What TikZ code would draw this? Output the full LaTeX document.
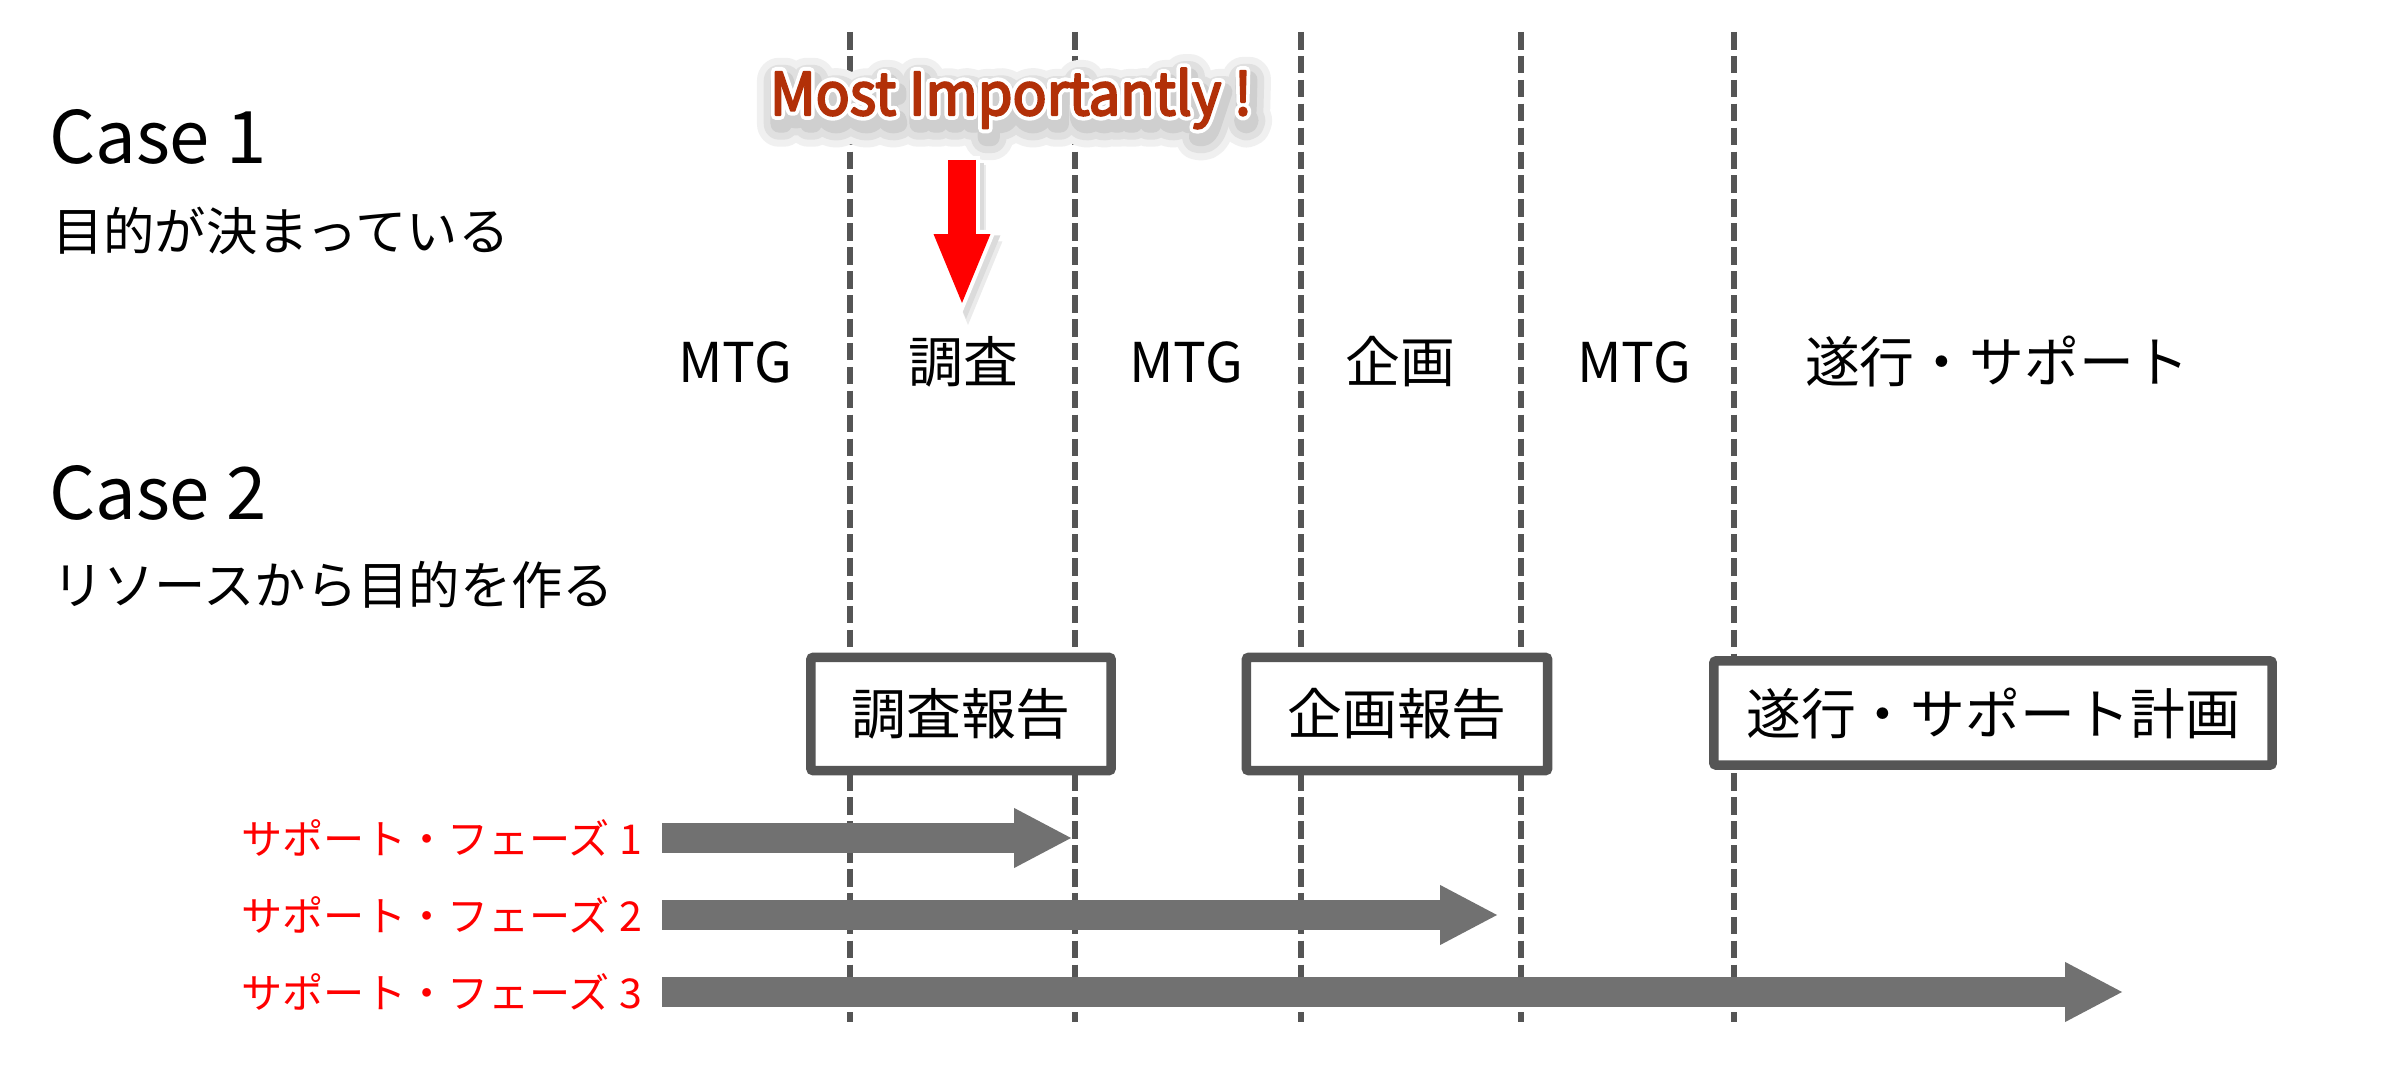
\documentclass[tikz,border=0pt]{standalone}
\usepackage{fontspec}
\setmainfont{Noto Sans CJK JP}
\usetikzlibrary{positioning, calc, math, arrows.meta}

\definecolor{linegray}{RGB}{85,85,85}
\definecolor{bargray}{RGB}{113,113,113}
\definecolor{alertred}{RGB}{178,48,8}

%% soft shadow and white rim round a text (stroked glyphs)
\newcommand{\halotext}[1]{%
  \rlap{\hspace{1pt}\raisebox{-2.5pt}{\color{black!6}\special{pdf:code 2 Tr 13 w 1 j}#1}}%
  \rlap{\hspace{1pt}\raisebox{-2.5pt}{\color{black!12}\special{pdf:code 2 Tr 9 w 1 j}#1}}%
  \rlap{\hspace{1pt}\raisebox{-2.5pt}{\color{black!19}\special{pdf:code 2 Tr 5 w 1 j}#1}}%
  \rlap{\color{white}\special{pdf:code 2 Tr 2.8 w 1 j}#1}%
  {\special{pdf:code 2 Tr 0.6 w 1 j}#1\special{pdf:code 0 Tr}}}

\tikzset{
every node/.style = {inner sep = 0pt, outer sep = 0pt},
casehead/.style = {anchor = base west, font = \fontsize{20.6pt}{25pt}\selectfont},
casesub/.style = {anchor = base west, font = \fontsize{14.6pt}{17pt}\selectfont},
stage/.style = {anchor = base, font = \fontsize{15.6pt}{18pt}\selectfont},
report/.style = {rectangle, draw = linegray, line width = 2.7pt, fill = white,
   rounded corners = 0.6pt, minimum height = 1.13cm,
   font = \fontsize{15.6pt}{18pt}\selectfont},
phaselabel/.style = {text = red, font = \fontsize{11.7pt}{14pt}\selectfont},
phasebar/.style = {bargray, line width = 8.5pt,
   -{Triangle[length = 16.2pt, width = 17.1pt, line width = 0pt]}},
separator/.style = {linegray, line width = 1.6pt, dash pattern = on 5pt off 1.8pt},
pointer/.style = {red, line width = 8pt,
   -{Triangle[length = 19.6pt, width = 16.2pt, line width = 0pt]}},
pointer rim/.style = {line width = 10.3pt,
   -{Triangle[length = 23.8pt, width = 19.6pt, line width = 0pt]}},
highlight/.style = {anchor = base, text = alertred,
   font = \fontsize{16.7pt}{20pt}\selectfont}
}

\begin{document}
\begin{tikzpicture}[x = 0.01cm, y = -0.01cm]

\fill [white] (0,0) rectangle (2400,1080);
\useasboundingbox (0,0) rectangle (2400,1080);

%% Cases
\node [casehead] (case1) at (49,164) {Case 1};
\node [casesub] (goal1) at (52,251) {目的が決まっている};
\node [casehead] (case2) at (49,520) {Case 2};
\node [casesub] (goal2) at (52,605) {リソースから目的を作る};

%% Separators
\foreach \x [count = \i] in {850, 1075, 1301, 1521, 1734}{
   \coordinate (septop\i) at (\x,32);
   \coordinate (sepbot\i) at (\x,1022);
   \draw [separator] (septop\i) -- (sepbot\i);
}

%% Stages
\foreach \x/\t [count = \i] in {735/MTG, 963/調査, 1186/MTG, 1400/企画, 1634/MTG, 1997/遂行・サポート}
   \node [stage] (stage\i) at (\x,383) {\t};

%% Reports
\node [report, minimum width = 3cm] (survey) at (961,714) {調査報告};
\node [report, minimum width = 3.01cm] (plan) at (1397,714) {企画報告};
\node [report, minimum width = 5.58cm, minimum height = 1.04cm] (exec) at (1993,713) {遂行・サポート計画};

%% Support phases
\foreach \i/\tip in {1/1071, 2/1497, 3/2122}{
   \tikzmath{\y = 761 + 77*\i;}
   \coordinate (start\i) at (662,\y);
   \coordinate (end\i) at (\tip,\y);
   \node [phaselabel, left = 2mm of start\i] (phase\i) {サポート・フェーズ \i};
   \draw [phasebar] (start\i) -- (end\i);
}

%% Most important step
\node [highlight] (note) at (1011,115) {\scalebox{0.96}[1]{\halotext{Most Importantly !}}};
\coordinate (pintop) at (962,160);
\coordinate (pintip) at (962,303);
\draw [pointer rim, black!8] ([shift = {(6,5)}]pintop) -- ([shift = {(6,22)}]pintip);
\draw [pointer rim, black!14] ([shift = {(4,3)}]pintop) -- ([shift = {(4,16)}]pintip);
\draw [pointer rim, white] ([shift = {(0,-4)}]pintop) -- ([shift = {(0,10.5)}]pintip);
\draw [pointer] (pintop) -- (pintip);

\end{tikzpicture}
\end{document}
